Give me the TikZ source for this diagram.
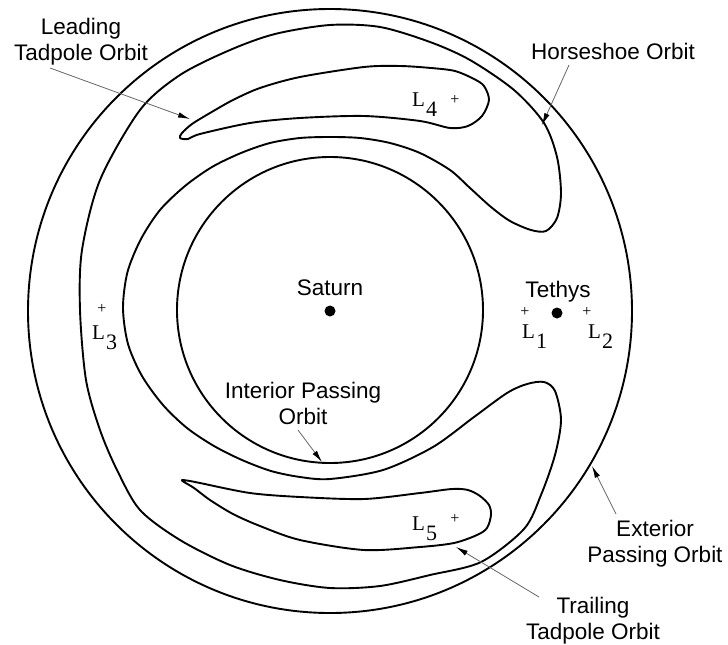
\documentclass[tikz,border=0pt]{standalone}
\usepackage{fontspec}
\setmainfont{Liberation Serif}
\setsansfont{Liberation Sans}
\usetikzlibrary{arrows.meta}

% subscripted Lagrange point label
\newcommand\lagrange[1]{L\kern1pt\raisebox{-10.5pt}{\fontsize{22}{22}\selectfont #1}}

\begin{document}
\begin{tikzpicture}[x=1pt,y=-1pt,
  orbit/.style={line width=1.9pt, line join=round},
  caption/.style={font=\sffamily\fontsize{22.5}{26}\selectfont, align=center, inner sep=0pt, anchor=north},
  pointer/.style={draw=black!60, line width=0.8pt, -{Latex[length=12pt,width=5.5pt,black]}},
  lagr/.style={font=\rmfamily\fontsize{21}{21}\selectfont, inner sep=0pt, anchor=base west},
  cross/.style={font=\rmfamily\fontsize{16}{16}\selectfont, inner sep=0pt},
  body/.style={circle, fill=black, inner sep=0pt, minimum size=11pt}
]
\useasboundingbox (0,0) rectangle (728,645);

% exterior passing orbit and interior passing orbit
\draw[orbit] (330,311) circle[radius=302];
\draw[orbit] (330,310) circle[radius=153];

% horseshoe orbit
\draw[orbit] plot[smooth cycle, tension=0.5] coordinates {
  (330,25) (380,27) (430,42) (470,60) (514,90) (544,123) (557,157)
  (561,193) (557,218) (546,231) (531,230) (510,221) (491,207) (470,188)
  (450,170) (420,153) (390,143) (360,138) (330,137) (300,138) (270,143)
  (241,153) (212,167) (185,186) (160,210) (141,239) (127.5,272) (123,308)
  (128,344) (142,376) (163,405) (187,428) (214,446) (242,460) (271,471)
  (300,477) (330,479) (383,470) (433,447)
  (474,417) (507,393) (527,384) (544,382) (555,391) (561,420) (555,455)
  (541,495) (524,529) (481,562) (430,575) (380,586) (330,588) (280,580)
  (230,565) (180,540) (140,510) (117,470) (100,430) (86,380) (80,310)
  (82,250) (100,180) (140,110) (180,75) (230,50) (275,34)};

% leading tadpole orbit around L4
\draw[orbit] plot[smooth cycle, tension=0.5] coordinates {
  (180,138) (188,139) (200,134) (250,123) (300,118) (364,116) (420,121)
  (450,128) (468,126) (482,116) (489,100) (484,86) (474,79) (455,71)
  (431,68) (400,66) (364,67) (300,77) (260,88) (233,100) (210,113)
  (192,124) (182,133)};

% trailing tadpole orbit around L5
\draw[orbit] plot[smooth cycle, tension=0.5] coordinates {
  (182,480) (190,481) (200,483) (250,493) (300,497) (364,499) (420,493)
  (452,489) (468,490) (480,496) (489,505) (491,515) (487,528) (477,535)
  (454,543) (420,547) (364,550) (300,540) (260,526) (233,514) (210,500)
  (194,488) (184,482)};

% bodies
\node[body] (saturn) at (330,311) {};
\node[body] (tethys) at (557,313) {};
\node[font=\sffamily\fontsize{22.5}{26}\selectfont, inner sep=0pt, anchor=base] (saturnlbl) at (330,295) {Saturn};
\node[font=\sffamily\fontsize{22.5}{26}\selectfont, inner sep=0pt, anchor=base] (tethyslbl) at (558,297) {Tethys};

% Lagrange points
\node[cross] (p1) at (525,312) {+};
\node[cross] (p2) at (587,312) {+};
\node[cross] (p3) at (102,309) {+};
\node[cross] (p4) at (455,100) {+};
\node[cross] (p5) at (455,519) {+};
\node[lagr] (l1) at (522,338) {\lagrange{1}};
\node[lagr] (l2) at (588,338) {\lagrange{2}};
\node[lagr] (l3) at (92,339) {\lagrange{3}};
\node[lagr] (l4) at (412,106) {\lagrange{4}};
\node[lagr] (l5) at (412,530) {\lagrange{5}};

% captions
\node[caption] (lead) at (81,18) {Leading\\Tadpole Orbit};
\node[caption] (horse) at (613,43) {Horseshoe Orbit};
\node[caption] (inter) at (303,382) {Interior Passing\\Orbit};
\node[caption] (exter) at (655,520) {Exterior\\Passing Orbit};
\node[caption] (trail) at (593,597) {Trailing\\Tadpole Orbit};

% pointer ends
\coordinate (leadA) at (50,68);    \coordinate (leadB) at (190,119);
\coordinate (horseA) at (569,65);  \coordinate (horseB) at (542,125);
\coordinate (interA) at (298,430); \coordinate (interB) at (322,462);
\coordinate (exterA) at (616,514); \coordinate (exterB) at (592,466);
\coordinate (trailA) at (539,597); \coordinate (trailB) at (456,547);

\draw[pointer] (leadA) -- (leadB);
\draw[pointer] (horseA) -- (horseB);
\draw[pointer] (interA) -- (interB);
\draw[pointer] (exterA) -- (exterB);
\draw[pointer] (trailA) -- (trailB);
\end{tikzpicture}
\end{document}
